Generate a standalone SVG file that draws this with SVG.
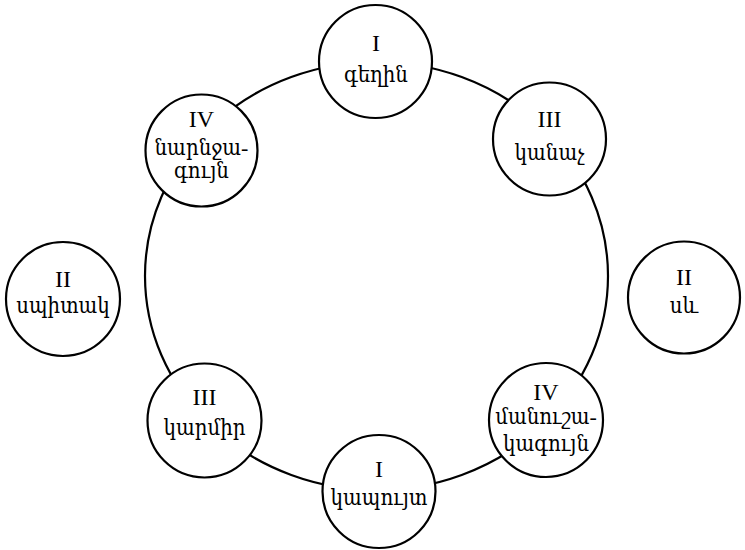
<svg xmlns="http://www.w3.org/2000/svg" width="745" height="550" viewBox="0 0 745 550">
<style>
.n{fill:#fff;stroke:#000;stroke-width:2.2}
.e{fill:none;stroke:#000;stroke-width:2.2}
text{font-family:"Liberation Serif","DejaVu Serif Condensed","DejaVu Serif",serif;font-size:22px;text-anchor:middle;fill:#000}
text.r{font-size:24px}
</style>
<rect width="745" height="550" fill="#fff"/>
<g id="connectors">
<ellipse class="e" cx="376.5" cy="276" rx="231.5" ry="214"/>
</g>
<g id="n-top"><circle class="n" cx="375.5" cy="61.5" r="56.5"/><text class="r" x="376" y="51">I</text><text x="376" y="82">գեղին</text></g>
<g id="n-ru"><circle class="n" cx="549.5" cy="139" r="56.5"/><text class="r" x="549.5" y="127">III</text><text x="549.5" y="160">կանաչ</text></g>
<g id="n-rl"><circle class="n" cx="546" cy="420" r="57"/><text class="r" x="546" y="400">IV</text><text x="546" y="424">մանուշա-</text><text x="546" y="451">կագույն</text></g>
<g id="n-bot"><circle class="n" cx="379" cy="491.5" r="56.5"/><text class="r" x="379" y="477">I</text><text x="379" y="505">կապույտ</text></g>
<g id="n-ll"><circle class="n" cx="204.5" cy="420.5" r="57"/><text class="r" x="204.5" y="405">III</text><text x="204.5" y="435">կարմիր</text></g>
<g id="n-lu"><circle class="n" cx="201.5" cy="150.5" r="56"/><text class="r" x="201.5" y="127">IV</text><text x="201.5" y="155">նարնջա-</text><text x="201.5" y="178">գույն</text></g>
<g id="n-li"><circle class="n" cx="63" cy="299" r="57"/><text class="r" x="63" y="287">II</text><text x="63" y="313">սպիտակ</text></g>
<g id="n-ri"><circle class="n" cx="684" cy="297.5" r="56"/><text class="r" x="684" y="285">II</text><text x="684" y="313">սև</text></g>
</svg>
